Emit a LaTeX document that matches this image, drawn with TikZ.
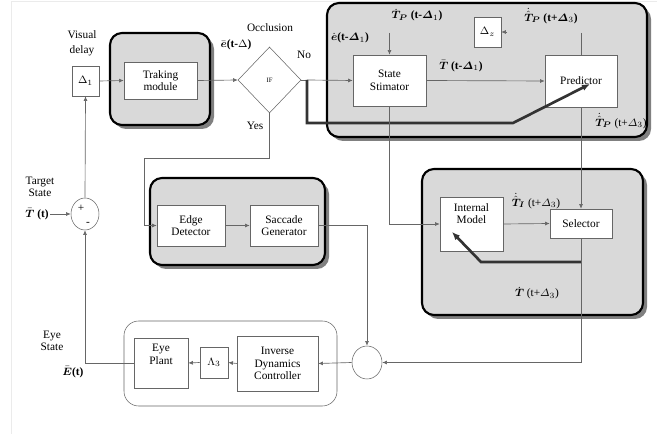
\documentclass[tikz,border=0pt]{standalone}
\usepackage{amsmath}
\usepackage{amssymb}
\usepackage{fontspec}
\setmainfont{Liberation Serif}
\usepackage{tikz}
\usetikzlibrary{shapes.geometric, arrows.meta}

\tikzset{
  blk/.style={draw=black!60, fill=white, align=center, inner sep=1pt},
  panel/.style={draw=black, line width=1.6pt, fill=black!15, rounded corners=9pt},
  panelshadow/.style={fill=black!50, rounded corners=9pt},
  wire/.style={draw=black!60, line width=0.5pt},
  arr/.style={wire, -{Latex[length=3.5pt,width=3pt]}},
  fat/.style={draw=black!80, line width=2pt, -{Latex[length=6pt,width=5pt]}},
  lbl/.style={inner sep=0pt, align=center}
}

\begin{document}
\begin{tikzpicture}[x=0.75pt, y=-0.75pt, font=\fontsize{8.5}{9.5}\selectfont]
        \useasboundingbox (0,0) rectangle (657,434);
        \draw[black!8] (11,434) -- (11,1) -- (657,1);

        % shaded panels
        \fill[panelshadow] (114,37) rectangle (214,129);
        \draw[panel] (110,33) rectangle (210,125);
        \fill[panelshadow] (331,7) rectangle (651,141);
        \draw[panel] (327,3) rectangle (647,137);
        \fill[panelshadow] (154,182) rectangle (329,269);
        \draw[panel] (150,178) rectangle (325,265);
        \fill[panelshadow] (426,173) rectangle (647,319);
        \draw[panel] (422,169) rectangle (643,315);
        \draw[black!60, rounded corners=11pt] (124,321) rectangle (337,406);

        % blocks
        \node[blk, minimum width=20.25pt, minimum height=22.5pt] (d1) at (85.5,81) {$\Delta_1$};
        \node[blk, minimum width=54.75pt, minimum height=27.75pt] (track) at (160.5,80.5) {Traking\\module};
        \node[draw=black!60, fill=white, diamond, aspect=0.95, minimum width=47.25pt, minimum height=49.5pt, inner sep=0pt, font=\fontsize{5}{6}\selectfont] (occl) at (269.5,80) {IF};
        \node[blk, minimum width=54.75pt, minimum height=38.25pt] (stim) at (389.5,80.5) {State\\Stimator};
        \node[blk, minimum width=20.25pt, minimum height=22.5pt] (dz) at (487.5,32) {$\Delta_z$};
        \node[blk, minimum width=54pt, minimum height=39pt] (pred) at (581,81) {Predictor};
        \node[blk, minimum width=47.25pt, minimum height=40.5pt] (intm) at (471.5,224) {Internal\\Model\\[6pt]};
        \node[blk, minimum width=46.5pt, minimum height=21.75pt] (sel) at (581,223.5) {Selector};
        \node[blk, minimum width=51pt, minimum height=30.75pt] (edge) at (191,225.5) {Edge\\Detector};
        \node[blk, minimum width=51pt, minimum height=30.75pt] (sacc) at (284,225.5) {Saccade\\Generator};
        \node[blk, minimum width=60.75pt, minimum height=41.25pt] (idc) at (277.5,363.5) {Inverse\\Dynamics\\Controller};
        \node[blk, minimum width=21pt, minimum height=23.25pt] (lam) at (214,362.5) {$\Lambda_3$};
        \node[blk, minimum width=40.5pt, minimum height=37.5pt] (plant) at (161,363) {Eye\\Plant\\[4pt]};
        \node[draw=black!60, fill=white, ellipse, minimum width=21pt, minimum height=24pt, inner sep=0pt] (sum) at (85,214) {};
        \node[draw=black!60, fill=white, ellipse, minimum width=22.5pt, minimum height=24.75pt, inner sep=0pt] (join) at (367,362.5) {};

        % texts
        \node[lbl] (vis) at (82,43) {Visual\\[2pt]delay};
        \node[lbl] (occtxt) at (270,28) {Occlusion};
        \node[lbl] (no) at (304,55) {No};
        \node[lbl] (yes) at (255,126) {Yes};
        \node[lbl] (ebar) at (236,45) {$\bar{\boldsymbol e}$\textbf{(t-}$\Delta$\textbf{)}};
        \node[lbl] (edot) at (350,38) {$\dot{\boldsymbol e}$\textbf{(t-}$\boldsymbol\varDelta_1$\textbf{)}};
        \node[lbl] (tp1) at (417,15) {$\dot{\boldsymbol T}_{\!\boldsymbol P}$ \textbf{(t-}$\boldsymbol\varDelta_1$\textbf{)}};
        \node[lbl] (tp2) at (551,16) {$\dot{\hat{\boldsymbol T}}_{\!\boldsymbol P}$ \textbf{(t+}$\boldsymbol\varDelta_3$\textbf{)}};
        \node[lbl] (tbar) at (461,66) {$\bar{\boldsymbol T}$ \textbf{(t-}$\boldsymbol\varDelta_1$\textbf{)}};
        \node[lbl] (tp3) at (621,121) {$\dot{\hat{\boldsymbol T}}_{\!\boldsymbol P}$ (t+$\varDelta_3$)};
        \node[lbl] (ti) at (536,201) {$\dot{\hat{\boldsymbol T}}_{\!\boldsymbol I}$ (t+$\varDelta_3$)};
        \node[lbl] (tsel) at (537,293) {$\dot{\boldsymbol T}$ (t+$\varDelta_3$)};
        \node[lbl] (tgt) at (40,187) {Target\\[-1pt]State};
        \node[lbl] (tin) at (37,214) {$\bar{\boldsymbol T}$ \textbf{(t)}};
        \node[lbl] (plus) at (81,208) {+};
        \node[lbl] (minus) at (88,224) {-};
        \node[lbl] (eye) at (52,341) {Eye\\[-1pt]State};
        \node[lbl] (ebig) at (73,372) {$\bar{\boldsymbol E}$\textbf{(t)}};

        % free ends
        \coordinate (split) at (307,80);
        \coordinate (etop) at (389.5,33);
        \coordinate (dzin) at (507,32);
        \coordinate (ptop) at (581,33);
        \coordinate (fb1) at (581,262);
        \coordinate (fb2) at (481,262);
        \coordinate (fbend) at (452,232);
        \coordinate (pe) at (590,84);
        \coordinate (tstart) at (50,214);

        % connectors
        \draw[arr] (sum.north) -- (d1.south);
        \draw[arr] (d1.east) -- (track.west);
        \draw[arr] (track.east) -- (occl.west);
        \draw[wire] (occl.east) -- (split);
        \draw[arr] (split) -- (stim.west);
        \draw[fat] (split) -- (307,123) -- (513,123) -- (pe);
        \draw[arr] (etop) -- (stim.north);
        \draw[arr] (dzin) -- (dz.east);
        \draw[wire] (ptop) -- (pred.north);
        \draw[arr] (stim.east) -- (pred.west);
        \draw[arr] (pred.south) -- (sel.north);
        \draw[arr] (stim.south) |- (intm.west);
        \draw[arr] (intm.east) -- (sel.west);
        \draw[fat] (fb1) -- (fb2) -- (fbend);
        \draw[arr] (sel.south) |- (join.east);
        \draw[arr] (occl.south) -- (269.5,158) -- (144,158) |- (edge.west);
        \draw[arr] (edge.east) -- (sacc.west);
        \draw[arr] (sacc.east) -| (join.north);
        \draw[arr] (join.west) -- (idc.east);
        \draw[arr] (idc.west) -- (lam.east);
        \draw[arr] (lam.west) -- (plant.east);
        \draw[arr] (plant.west) -| (sum.south);
        \draw[arr] (tstart) -- (sum.west);
    \end{tikzpicture}
\end{document}
